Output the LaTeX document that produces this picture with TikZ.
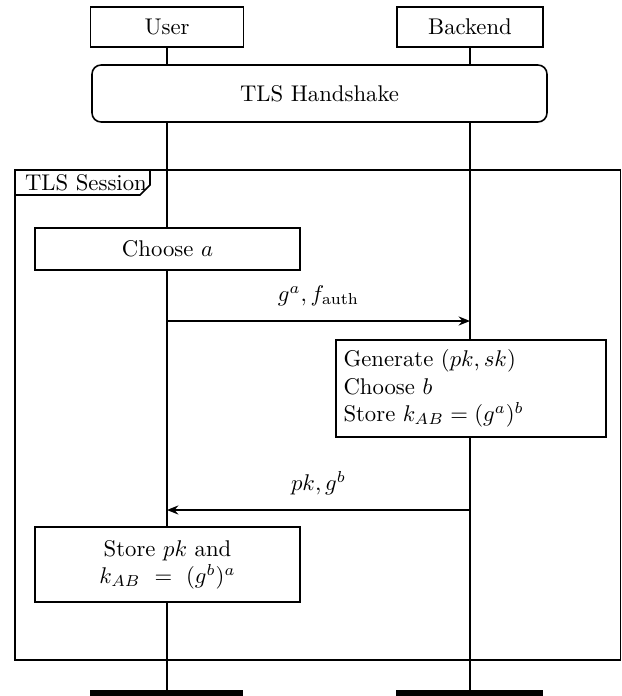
\documentclass[tikz,border=0pt]{standalone}
\usetikzlibrary{arrows.meta}
\begin{document}
\begin{tikzpicture}[x=0.44pt,y=-0.44pt,
  box/.style={draw,line width=0.7pt,fill=white,inner sep=2pt,font=\fontsize{10}{12}\selectfont},
  life/.style={line width=0.9pt},
  msg/.style={line width=0.7pt,-{Stealth[length=5pt,width=4pt]}},
  lbl/.style={font=\fontsize{10}{12}\selectfont},
  bar/.style={fill=black,draw=none}]
\useasboundingbox (0,0) rectangle (622,696);
% lifelines
\coordinate (ubot) at (167,690);
\coordinate (bbot) at (470,690);
\node[box,minimum width=153*0.44pt,minimum height=40*0.44pt] (user) at (167,27) {User};
\node[box,minimum width=146*0.44pt,minimum height=40*0.44pt] (backend) at (470,27) {Backend};
\draw[life] (user.south) -- (ubot);
\draw[life] (backend.south) -- (bbot);
% handshake
\node[box,rounded corners=4pt,minimum width=455*0.44pt,minimum height=57*0.44pt] (hs) at (319.5,93.5) {TLS Handshake};
% frame
\draw[line width=0.7pt] (15,170) rectangle (620.5,660);
\draw[line width=0.7pt,fill=white] (15,170) -- (150,170) -- (150,185) -- (140,195) -- (15,195) -- cycle;
\node[lbl,anchor=west] (sess) at (17,182.5) {TLS Session};
% choose a
\node[box,minimum width=265*0.44pt,minimum height=42*0.44pt] (choosea) at (167.5,249) {Choose $a$};
% message 1
\coordinate (u1) at (167,321);
\coordinate (b1) at (470,321);
\draw[msg] (u1) -- (b1) node[lbl,midway,above=3pt] (m1) {$g^a, f_{\mathrm{auth}}$};
% generate box
\node[box,minimum width=270*0.44pt,minimum height=97*0.44pt,text width=255*0.44pt,align=left,inner sep=3pt] (gen) at (471,388.5) {Generate $(pk, sk)$\\ Choose $b$\\ Store $k_{AB} = (g^a)^b$};
% message 2
\coordinate (b2) at (470,510);
\coordinate (u2) at (167,510);
\draw[msg] (b2) -- (u2) node[lbl,midway,above=3pt] (m2) {$pk, g^b$};
% store box
\node[box,minimum width=265*0.44pt,minimum height=75*0.44pt,align=center] (store) at (167.5,564.5) {Store $pk$ and\\ $k_{AB}\ =\ (g^b)^a$};
% bars
\draw[bar] (90,690) rectangle (243,697);
\draw[bar] (396,690) rectangle (543,697);
\end{tikzpicture}
\end{document}
